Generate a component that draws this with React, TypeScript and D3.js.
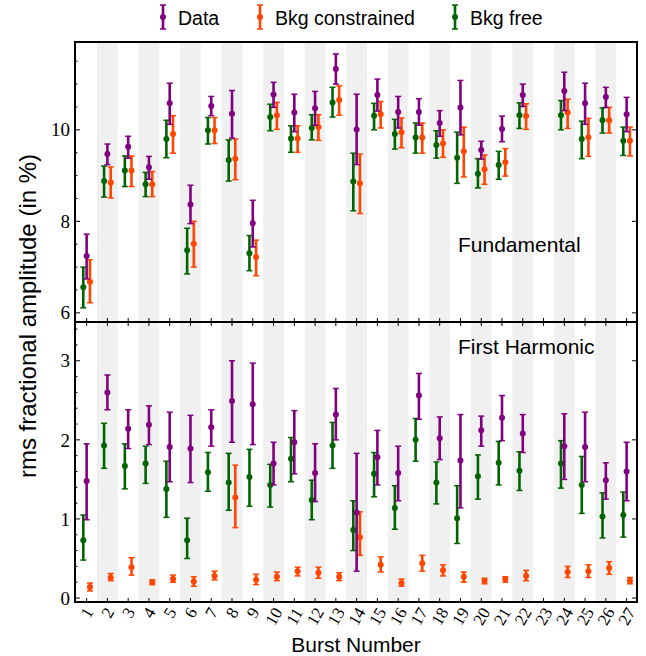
import React from "react";
import * as d3 from "d3";

// Burst numbers along the x axis
const bursts = [1, 2, 3, 4, 5, 6, 7, 8, 9, 10, 11, 12, 13, 14, 15, 16, 17, 18, 19, 20, 21, 22, 23, 24, 25, 26, 27];

type Pt = [number, number, number] | null; // [value, lower, upper]

// Fundamental: rms fractional amplitude (%)
const fundData: Pt[] = [
  [7.24, 6.74, 7.72], [9.47, 9.24, 9.69], [9.63, 9.38, 9.86], [9.18, 8.92, 9.42], [10.58, 10.12, 11.02],
  [8.37, 7.95, 8.79], [10.52, 10.31, 10.73], [10.35, 9.82, 10.86], [7.96, 7.44, 8.46], [10.77, 10.49, 11.04],
  [10.38, 9.96, 10.78], [10.47, 10.1, 10.84], [11.33, 11.0, 11.66], [10.01, 9.24, 10.78], [10.76, 10.41, 11.11],
  [10.39, 10.04, 10.73], [10.39, 10.1, 10.68], [10.15, 9.86, 10.42], [10.49, 9.89, 11.08], [9.56, 9.36, 9.75],
  [10.02, 9.74, 10.3], [10.76, 10.51, 11.0], null, [10.85, 10.42, 11.26], [10.58, 10.12, 11.02],
  [10.72, 10.49, 10.93], [10.34, 9.96, 10.71],
];
const fundConstrained: Pt[] = [
  [6.68, 6.22, 7.16], [8.85, 8.51, 9.19], [9.11, 8.76, 9.43], [8.81, 8.54, 9.09], [9.91, 9.49, 10.31],
  [7.51, 7.0, 8.0], [9.99, 9.7, 10.27], [9.37, 8.91, 9.8], [7.22, 6.81, 7.59], [10.32, 10.01, 10.6],
  [9.81, 9.51, 10.09], [10.06, 9.77, 10.33], [10.65, 10.32, 10.96], [8.83, 8.17, 9.47], [10.34, 10.04, 10.62],
  [9.95, 9.61, 10.26], [9.83, 9.49, 10.15], [9.7, 9.4, 10.0], [9.53, 8.97, 10.06], [9.14, 8.81, 9.45],
  [9.29, 8.99, 9.59], [10.3, 10.01, 10.57], null, [10.38, 10.03, 10.67], [9.84, 9.42, 10.25],
  [10.21, 9.93, 10.49], [9.76, 9.43, 10.06],
];
const fundFree: Pt[] = [
  [6.56, 6.11, 7.0], [8.88, 8.53, 9.21], [9.11, 8.76, 9.43], [8.81, 8.54, 9.07], [9.8, 9.39, 10.21],
  [7.37, 6.85, 7.85], [9.99, 9.69, 10.27], [9.34, 8.88, 9.78], [7.3, 6.92, 7.69], [10.28, 9.98, 10.56],
  [9.81, 9.51, 10.09], [10.04, 9.78, 10.33], [10.6, 10.28, 10.93], [8.87, 8.23, 9.49], [10.31, 10.0, 10.58],
  [9.91, 9.58, 10.23], [9.83, 9.49, 10.15], [9.67, 9.38, 9.98], [9.39, 8.83, 9.95], [9.04, 8.73, 9.37],
  [9.23, 8.92, 9.53], [10.32, 10.03, 10.59], null, [10.32, 10.0, 10.64], [9.8, 9.37, 10.19],
  [10.21, 9.93, 10.48], [9.76, 9.44, 10.06],
];

// First harmonic: rms fractional amplitude (%)
const harmData: Pt[] = [
  [1.48, 0.99, 1.95], [2.6, 2.38, 2.82], [2.14, 1.89, 2.38], [2.19, 1.94, 2.43], [1.91, 1.47, 2.35],
  [1.89, 1.46, 2.31], [2.16, 1.92, 2.38], [2.49, 1.97, 3.0], [2.45, 1.94, 2.97], [1.7, 1.43, 1.97],
  [1.97, 1.57, 2.37], [1.58, 1.22, 1.95], [2.32, 2.0, 2.65], [1.08, 0.34, 1.83], [1.78, 1.43, 2.12],
  [1.58, 1.23, 1.92], [2.56, 2.26, 2.84], [2.02, 1.75, 2.29], [1.74, 1.14, 2.32], [2.12, 1.92, 2.3],
  [2.28, 1.99, 2.56], [2.08, 1.84, 2.32], null, [1.92, 1.5, 2.33], [1.91, 1.47, 2.35],
  [1.49, 1.25, 1.71], [1.6, 1.23, 1.97],
];
const harmConstrained: Pt[] = [
  [0.14, 0.09, 0.19], [0.26, 0.22, 0.31], [0.39, 0.29, 0.51], [0.2, 0.17, 0.23], [0.24, 0.2, 0.29],
  [0.21, 0.15, 0.27], [0.28, 0.23, 0.34], [1.27, 0.89, 1.68], [0.23, 0.17, 0.3], [0.27, 0.22, 0.33],
  [0.34, 0.28, 0.39], [0.32, 0.25, 0.39], [0.27, 0.22, 0.32], [0.77, 0.54, 1.09], [0.42, 0.33, 0.52],
  [0.19, 0.15, 0.24], [0.44, 0.34, 0.54], [0.35, 0.28, 0.42], [0.27, 0.2, 0.33], [0.22, 0.18, 0.25],
  [0.24, 0.2, 0.27], [0.28, 0.22, 0.35], null, [0.33, 0.26, 0.4], [0.34, 0.26, 0.42],
  [0.38, 0.3, 0.46], [0.22, 0.18, 0.26],
];
const harmFree: Pt[] = [
  [0.73, 0.48, 1.05], [1.93, 1.64, 2.21], [1.67, 1.38, 1.95], [1.7, 1.45, 1.92], [1.38, 1.02, 1.73],
  [0.73, 0.5, 1.01], [1.59, 1.35, 1.84], [1.46, 1.11, 1.83], [1.53, 1.16, 1.88], [1.43, 1.15, 1.69],
  [1.76, 1.47, 2.03], [1.24, 0.99, 1.49], [1.93, 1.64, 2.22], [0.86, 0.6, 1.23], [1.57, 1.28, 1.84],
  [1.14, 0.87, 1.42], [2.0, 1.73, 2.27], [1.46, 1.19, 1.72], [1.01, 0.69, 1.42], [1.54, 1.25, 1.81],
  [1.71, 1.43, 1.98], [1.61, 1.36, 1.85], null, [1.7, 1.39, 1.99], [1.43, 1.07, 1.79],
  [1.03, 0.76, 1.33], [1.05, 0.77, 1.34],
];

const fundTicks = [6, 8, 10];
const harmTicks = [0, 1, 2, 3];

const seriesNames = ["Data", "Bkg constrained", "Bkg free"];
const seriesColors = ["#800080", "#ff4500", "#006400"];
const seriesOffsets = [0, 0.16, -0.16];

const SANS = "'Liberation Sans', Arial, sans-serif";
const SERIF = "'Liberation Serif', 'Times New Roman', serif";

const L = 75, R = 637, T = 42, MID = 322, B = 602;

const x = d3.scaleLinear().domain([0.44, 27.5]).range([L, R]);
const yFund = d3.scaleLinear().domain([5.8, 11.92]).range([MID, T]);
const yHarm = d3.scaleLinear().domain([-0.05, 3.49]).range([B, MID]);

function ErrorPoints({ pts, y, color, dx }: { pts: Pt[]; y: d3.ScaleLinear<number, number>; color: string; dx: number }) {
  return (
    <g>
      {pts.map((p, i) => {
        if (!p) return null;
        const cx = x(bursts[i] + dx);
        const [v, lo, hi] = p;
        return (
          <g key={i}>
            <line x1={cx} x2={cx} y1={y(lo)} y2={y(hi)} stroke={color} strokeWidth={2.6} />
            <line x1={cx - 3} x2={cx + 3} y1={y(lo)} y2={y(lo)} stroke={color} strokeWidth={1.5} />
            <line x1={cx - 3} x2={cx + 3} y1={y(hi)} y2={y(hi)} stroke={color} strokeWidth={1.5} />
            <circle cx={cx} cy={y(v)} r={3} fill={color} />
          </g>
        );
      })}
    </g>
  );
}

function YAxis({ y, major, minorCount, top, bottom }: { y: d3.ScaleLinear<number, number>; major: number[]; minorCount: number; top: number; bottom: number }) {
  const minor = y.ticks(minorCount).filter((t) => !major.includes(t));
  return (
    <g>
      {minor.map((t) => (
        <line key={"m" + t} x1={L} x2={L + 2.5} y1={y(t)} y2={y(t)} stroke="#000" strokeWidth={1} />
      ))}
      {major.map((t) => (
        <g key={t}>
          <line x1={L} x2={L + 5} y1={y(t)} y2={y(t)} stroke="#000" strokeWidth={1} />
          <line x1={R} x2={R - 5} y1={y(t)} y2={y(t)} stroke="#000" strokeWidth={1} />
          <text x={L - 5} y={y(t)} dy="0.35em" textAnchor="end" fontFamily={SERIF} fontSize={19}>
            {t}
          </text>
        </g>
      ))}
      <rect x={L} y={top} width={R - L} height={bottom - top} fill="none" stroke="#000" strokeWidth={2} />
    </g>
  );
}

export default function App() {
  const labelFont = 17;
  const charW = labelFont * 0.5;
  const capH = labelFont * 0.68;
  const ang = (60 * Math.PI) / 180;
  return (
    <svg width={646} height={656} style={{ display: "block", position: "absolute", left: 0, top: 0 }}>
      <rect width={646} height={656} fill="#fff" />
      {/* alternating shading for even bursts */}
      {bursts
        .filter((b) => b % 2 === 0)
        .map((b) => (
          <rect key={b} x={x(b - 0.5)} y={T} width={x(b + 0.5) - x(b - 0.5)} height={B - T} fill="#f0f0f0" />
        ))}

      {/* x ticks */}
      {bursts.map((b) => (
        <g key={b}>
          <line x1={x(b)} x2={x(b)} y1={MID} y2={MID - 4} stroke="#000" strokeWidth={1} />
          <line x1={x(b)} x2={x(b)} y1={MID} y2={MID + 4} stroke="#000" strokeWidth={1} />
          <line x1={x(b)} x2={x(b)} y1={B} y2={B - 4} stroke="#000" strokeWidth={1} />
        </g>
      ))}

      {/* Fundamental panel */}
      <ErrorPoints pts={fundFree} y={yFund} color={seriesColors[2]} dx={seriesOffsets[2]} />
      <ErrorPoints pts={fundConstrained} y={yFund} color={seriesColors[1]} dx={seriesOffsets[1]} />
      <ErrorPoints pts={fundData} y={yFund} color={seriesColors[0]} dx={seriesOffsets[0]} />
      <YAxis y={yFund} major={fundTicks} minorCount={12} top={T} bottom={MID} />
      <text x={458} y={252} fontFamily={SANS} fontSize={21}>Fundamental</text>

      {/* First harmonic panel */}
      <ErrorPoints pts={harmFree} y={yHarm} color={seriesColors[2]} dx={seriesOffsets[2]} />
      <ErrorPoints pts={harmConstrained} y={yHarm} color={seriesColors[1]} dx={seriesOffsets[1]} />
      <ErrorPoints pts={harmData} y={yHarm} color={seriesColors[0]} dx={seriesOffsets[0]} />
      <YAxis y={yHarm} major={harmTicks} minorCount={17} top={MID} bottom={B} />
      <text x={458} y={354} fontFamily={SANS} fontSize={21}>First Harmonic</text>

      {/* rotated burst labels */}
      {bursts.map((b) => {
        const s = String(b);
        const w = s.length * charW;
        const bh = w * Math.sin(ang) + capH * Math.cos(ang);
        const cy = B + 4 + bh / 2;
        return (
          <text
            key={b}
            transform={`translate(${x(b)},${cy}) rotate(-60)`}
            textAnchor="middle"
            dy="0.35em"
            fontFamily={SERIF}
            fontSize={labelFont}
          >
            {s}
          </text>
        );
      })}

      <text x={(L + R) / 2} y={652} textAnchor="middle" fontFamily={SANS} fontSize={21}>
        Burst Number
      </text>
      <text
        transform={`translate(${36},${316}) rotate(-90)`}
        textAnchor="middle"
        fontFamily={SANS}
        fontSize={24}
      >
        rms fractional amplitude (in %)
      </text>

      {/* legend */}
      {seriesNames.map((name, i) => {
        const mx = [163, 260, 455][i];
        return (
          <g key={name}>
            <line x1={mx} x2={mx} y1={5} y2={29} stroke={seriesColors[i]} strokeWidth={2.6} />
            <line x1={mx - 3} x2={mx + 3} y1={5} y2={5} stroke={seriesColors[i]} strokeWidth={1.5} />
            <line x1={mx - 3} x2={mx + 3} y1={29} y2={29} stroke={seriesColors[i]} strokeWidth={1.5} />
            <circle cx={mx} cy={17} r={3} fill={seriesColors[i]} />
            <text x={mx + 15} y={25} fontFamily={SANS} fontSize={19.5}>
              {name}
            </text>
          </g>
        );
      })}
    </svg>
  );
}
